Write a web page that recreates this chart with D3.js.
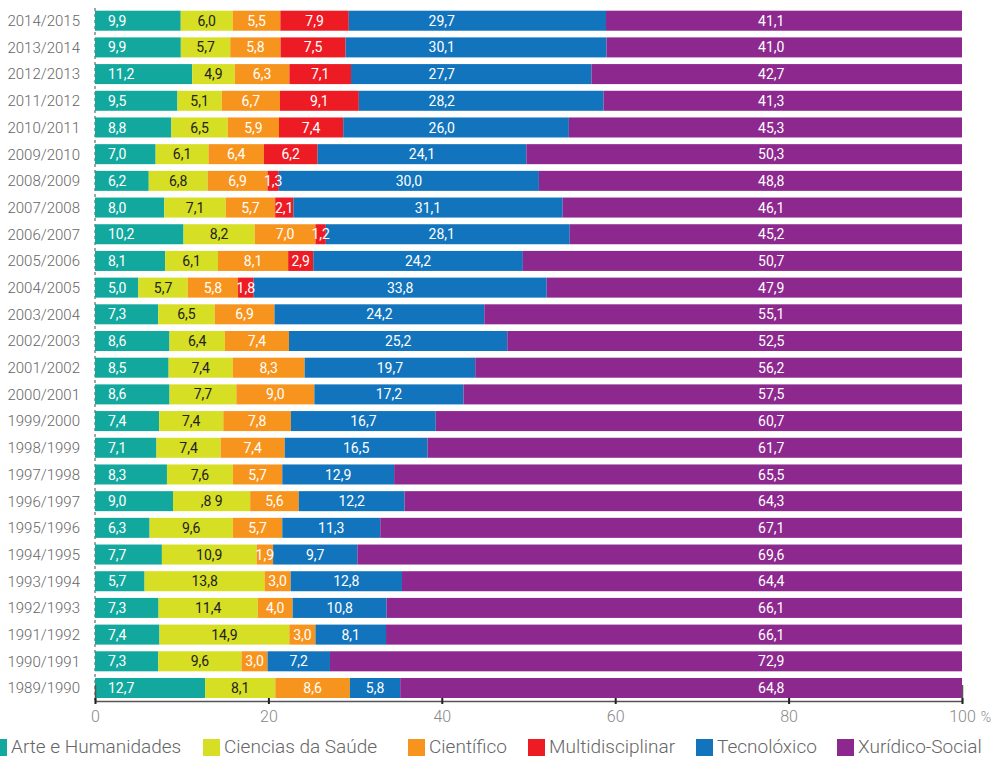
<!DOCTYPE html>
<html>
<head>
<meta charset="utf-8">
<script src="https://cdn.jsdelivr.net/npm/d3@7"></script>
<style>
  body { margin: 0; background: #fff; }
  svg { display: block; font-family: Roboto, "Open Sans", sans-serif; }
</style>
</head>
<body>
<svg id="chart" width="995" height="757"></svg>
<script>
// academic years, top row first
const years = ["2014/2015","2013/2014","2012/2013","2011/2012","2010/2011","2009/2010","2008/2009","2007/2008","2006/2007","2005/2006","2004/2005","2003/2004","2002/2003","2001/2002","2000/2001","1999/2000","1998/1999","1997/1998","1996/1997","1995/1996","1994/1995","1993/1994","1992/1993","1991/1992","1990/1991","1989/1990"];

const categories = ["Arte e Humanidades","Ciencias da Saúde","Científico","Multidisciplinar","Tecnolóxico","Xurídico-Social"];
const colors = ["#13a89e","#d6df23","#f7941d","#ed1c24","#1174bc","#8d288f"];

const arte      = [9.9,9.9,11.2,9.5,8.8,7.0,6.2,8.0,10.2,8.1,5.0,7.3,8.6,8.5,8.6,7.4,7.1,8.3,9.0,6.3,7.7,5.7,7.3,7.4,7.3,12.7];
const saude     = [6.0,5.7,4.9,5.1,6.5,6.1,6.8,7.1,8.2,6.1,5.7,6.5,6.4,7.4,7.7,7.4,7.4,7.6,8.9,9.6,10.9,13.8,11.4,14.9,9.6,8.1];
const cientifico= [5.5,5.8,6.3,6.7,5.9,6.4,6.9,5.7,7.0,8.1,5.8,6.9,7.4,8.3,9.0,7.8,7.4,5.7,5.6,5.7,1.9,3.0,4.0,3.0,3.0,8.6];
const multi     = [7.9,7.5,7.1,9.1,7.4,6.2,1.3,2.1,1.2,2.9,1.8,0,0,0,0,0,0,0,0,0,0,0,0,0,0,0];
const tecno     = [29.7,30.1,27.7,28.2,26.0,24.1,30.0,31.1,28.1,24.2,33.8,24.2,25.2,19.7,17.2,16.7,16.5,12.9,12.2,11.3,9.7,12.8,10.8,8.1,7.2,5.8];
const xuridico  = [41.1,41.0,42.7,41.3,45.3,50.3,48.8,46.1,45.2,50.7,47.9,55.1,52.5,56.2,57.5,60.7,61.7,65.5,64.3,67.1,69.6,64.4,66.1,66.1,72.9,64.8];

// the printed label for one cell differs from the value
const labelOverrides = { "1996/1997|1": ",8 9" };

const xTicks = [0,20,40,60,80,100];

const series = [arte, saude, cientifico, multi, tecno, xuridico];
const rows = years.map((y, i) => {
  const r = { year: y };
  categories.forEach((c, j) => r[c] = series[j][i]);
  return r;
});

const svg = d3.select("#chart");
const x0 = 95, x1 = 962;

const x = d3.scaleLinear().domain([0, 100]).range([x0, x1]);
const y = d3.scaleBand().domain(years).range([10.7, 698]).paddingInner(0.25);

// rows are normalised to 100 as in the original
const stacked = d3.stack().keys(categories).offset(d3.stackOffsetExpand)(rows);

// dashed vertical guide
svg.append("line")
  .attr("x1", x0).attr("x2", x0)
  .attr("y1", 8).attr("y2", 700)
  .attr("stroke", "#888").attr("stroke-width", 1.5)
  .attr("stroke-dasharray", "3,3");

const fmt = v => d3.format(".1f")(v).replace(".", ",");

stacked.forEach((s, j) => {
  const g = svg.append("g").attr("fill", colors[j]);
  g.selectAll("rect")
    .data(s.filter(d => d[1] - d[0] > 0))
    .join("rect")
    .attr("x", d => x(d[0] * 100))
    .attr("width", d => x(d[1] * 100) - x(d[0] * 100))
    .attr("y", d => y(d.data.year))
    .attr("height", y.bandwidth());
});

// value labels
stacked.forEach((s, j) => {
  const key = categories[j];
  svg.append("g")
    .selectAll("text")
    .data(s.filter(d => d.data[key] > 0))
    .join("text")
    .attr("x", d => {
      const c = (x(d[0] * 100) + x(d[1] * 100)) / 2;
      if (j === 0) return x(1.5);
      if (j === 4) return Math.min(c, x(40));
      if (j === 5) return x(78);
      return c;
    })
    .attr("y", d => y(d.data.year) + y.bandwidth() / 2)
    .attr("dy", "0.36em")
    .attr("text-anchor", j === 0 ? "start" : "middle")
    .attr("fill", j === 1 ? "#222" : "#fff")
    .style("font-size", "14px")
    .style("font-weight", 400)
    .text(d => labelOverrides[d.data.year + "|" + j] || fmt(d.data[key]));
});

// year labels
svg.append("g")
  .selectAll("text")
  .data(years)
  .join("text")
  .attr("x", 80)
  .attr("y", d => y(d) + y.bandwidth() / 2)
  .attr("dy", "0.36em")
  .attr("text-anchor", "end")
  .attr("fill", "#666")
  .style("font-size", "15px")
  .style("font-weight", 300)
  .text(d => d);

// x axis
const axis = svg.append("g")
  .attr("transform", "translate(0,701)")
  .call(d3.axisBottom(x).tickValues(xTicks).tickSizeInner(0).tickSizeOuter(-16).tickPadding(0));
axis.select(".domain").attr("stroke", "#555").attr("stroke-width", 1.5);
axis.selectAll(".tick text").remove();
axis.selectAll(".tick").append("line")
  .attr("y1", -3).attr("y2", 3)
  .attr("stroke", "#222").attr("stroke-width", 2);
axis.selectAll(".tick").append("text")
  .attr("y", 21)
  .attr("fill", "#888")
  .attr("text-anchor", "middle")
  .style("font-size", "16px")
  .style("font-weight", 300)
  .style("font-family", "Roboto, sans-serif")
  .text(d => d);
svg.append("text")
  .attr("x", 986).attr("y", 722)
  .attr("text-anchor", "middle")
  .attr("fill", "#888")
  .style("font-size", "14px")
  .style("font-weight", 300)
  .text("%");

// legend
const legendX = [-10, 203, 408, 528, 696, 837];
const legend = svg.append("g");
categories.forEach((c, j) => {
  legend.append("rect")
    .attr("x", legendX[j]).attr("y", 739)
    .attr("width", 17).attr("height", 17)
    .attr("fill", colors[j]);
  legend.append("text")
    .attr("x", legendX[j] + 21).attr("y", 753)
    .attr("fill", "#666")
    .style("font-size", "19px")
    .style("font-weight", 300)
    .text(c);
});
</script>
</body>
</html>
